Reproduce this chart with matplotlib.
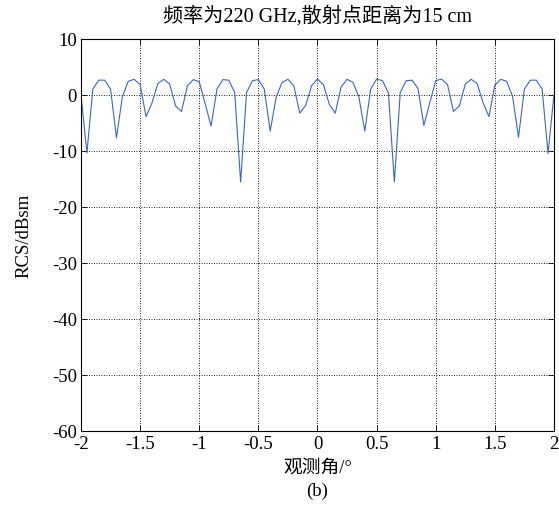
import matplotlib
matplotlib.use('Agg')
import matplotlib.pyplot as plt
import numpy as np

plt.rcParams['font.family'] = ['Liberation Serif', 'Noto Sans CJK SC', 'DejaVu Sans']
plt.rcParams['axes.unicode_minus'] = False

# observation angle (deg), step 0.05
angle = np.round(np.arange(-2.0, 2.0001, 0.05), 2)
# RCS values (dBsm)
rcs = [0.0, -10.4, 1.0, 2.6, 2.6, 1.0, -7.7, -0.35, 2.4, 2.75,
       1.8, -3.9, -1.5, 2.0, 2.75, 1.9, -2.0, -3.0, 1.6, 2.7,
       2.3, -1.6, -5.6, 1.0, 2.7, 2.6, 0.4, -15.6, 0.4, 2.5,
       2.7, 1.0, -6.5, -0.5, 2.2, 2.75, 1.6, -3.3, -1.9, 1.6,
       2.8,
       1.8, -1.7, -3.3, 1.4, 2.75, 2.2, -0.4, -6.5, 1.0, 2.8,
       2.5, 0.3, -15.6, 0.4, 2.5, 2.6, 1.1, -5.5, -1.4, 2.5,
       2.8, 1.8, -3.0, -2.0, 1.9, 2.75, 2.0, -1.4, -3.9, 1.7,
       2.75, 2.4, -0.3, -7.6, 1.0, 2.6, 2.6, 1.0, -10.5, 0.0]

xticks = [-2, -1.5, -1, -0.5, 0, 0.5, 1, 1.5, 2]
xticklabels = ['-2', '-1.5', '-1', '-0.5', '0', '0.5', '1', '1.5', '2']
yticks = [-60, -50, -40, -30, -20, -10, 0, 10]

fig = plt.figure(figsize=(5.59, 5.06), dpi=100)
ax = fig.add_axes([0.1449, 0.1468, 0.8461, 0.7747])

ax.plot(angle, rcs, color='#3c64c8', lw=0.8)

ax.set_xlim(-2, 2)
ax.set_ylim(-60, 10)
ax.set_xticks(xticks)
ax.set_xticklabels(xticklabels)
ax.set_yticks(yticks)
ax.set_yticklabels([str(v) for v in yticks])
ax.tick_params(direction='in', length=4, width=0.6, top=True, right=True,
               labelsize=13.5, pad=3)
ax.grid(True, linestyle=(0, (1.2, 1.8)), color='black', lw=0.6)
for s in ax.spines.values():
    s.set_linewidth(0.8)

ax.set_title('频率为220 GHz,散射点距离为15 cm', fontsize=14.5, pad=13)
ax.set_xlabel('观测角/°', fontsize=13.5, labelpad=5)
ax.set_ylabel('RCS/dBsm', fontsize=13.5, labelpad=14)
fig.text(0.568, 0.028, '(b)', ha='center', va='center', fontsize=13.5)

fig.savefig('out.png', dpi=100)
